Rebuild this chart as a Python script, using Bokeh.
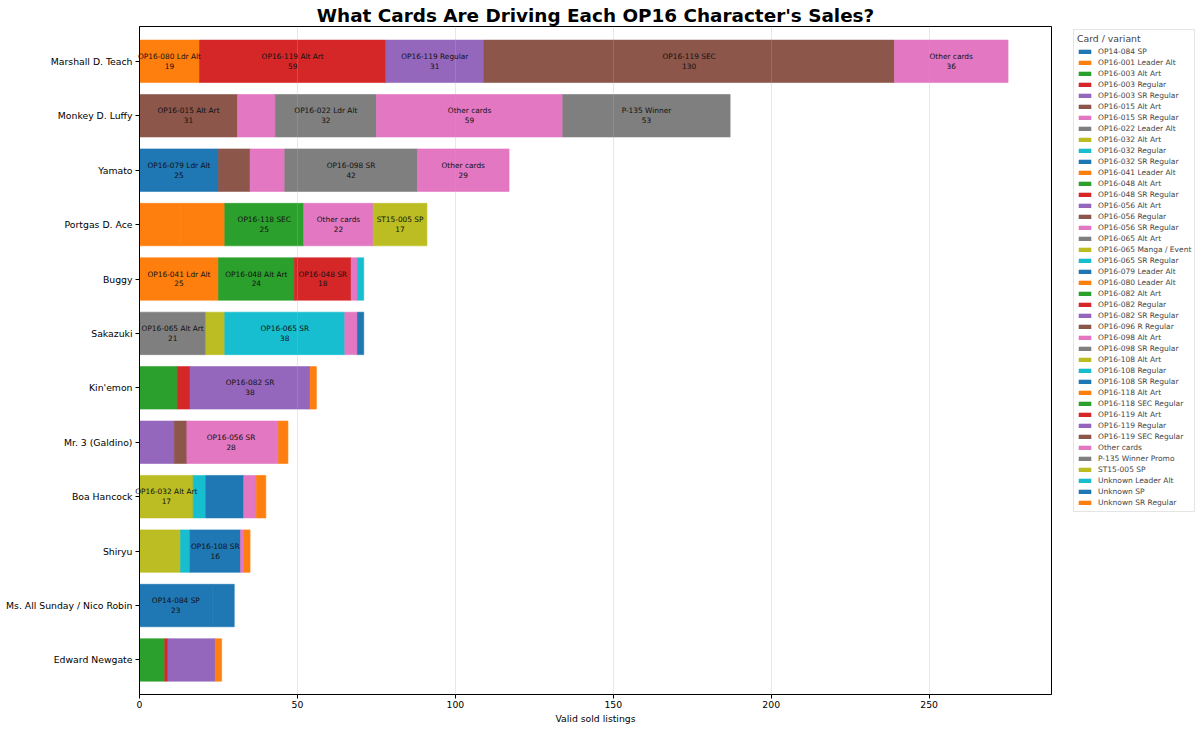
from bokeh.plotting import figure
from bokeh.models import ColumnDataSource, Legend, LegendItem, Range1d, FixedTicker
from bokeh.embed import file_html
from bokeh.resources import INLINE
from bokeh.core.properties import value

# ---------------- data ----------------
title_text = "What Cards Are Driving Each OP16 Character's Sales?"
x_label = "Valid sold listings"
legend_title = "Card / variant"

characters = ["Marshall D. Teach", "Monkey D. Luffy", "Yamato", "Portgas D. Ace", "Buggy",
              "Sakazuki", "Kin'emon", "Mr. 3 (Galdino)", "Boa Hancock", "Shiryu",
              "Ms. All Sunday / Nico Robin", "Edward Newgate"]

cards = ["OP14-084 SP", "OP16-001 Leader Alt", "OP16-003 Alt Art", "OP16-003 Regular",
         "OP16-003 SR Regular", "OP16-015 Alt Art", "OP16-015 SR Regular", "OP16-022 Leader Alt",
         "OP16-032 Alt Art", "OP16-032 Regular", "OP16-032 SR Regular", "OP16-041 Leader Alt",
         "OP16-048 Alt Art", "OP16-048 SR Regular", "OP16-056 Alt Art", "OP16-056 Regular",
         "OP16-056 SR Regular", "OP16-065 Alt Art", "OP16-065 Manga / Event", "OP16-065 SR Regular",
         "OP16-079 Leader Alt", "OP16-080 Leader Alt", "OP16-082 Alt Art", "OP16-082 Regular",
         "OP16-082 SR Regular", "OP16-096 R Regular", "OP16-098 Alt Art", "OP16-098 SR Regular",
         "OP16-108 Alt Art", "OP16-108 Regular", "OP16-108 SR Regular", "OP16-118 Alt Art",
         "OP16-118 SEC Regular", "OP16-119 Alt Art", "OP16-119 Regular", "OP16-119 SEC Regular",
         "Other cards", "P-135 Winner Promo", "ST15-005 SP", "Unknown Leader Alt", "Unknown SP",
         "Unknown SR Regular"]

teach = [("OP16-080 Leader Alt", 19), ("OP16-119 Alt Art", 59), ("OP16-119 Regular", 31),
         ("OP16-119 SEC Regular", 130), ("Other cards", 36)]
luffy = [("OP16-015 Alt Art", 31), ("OP16-015 SR Regular", 12), ("OP16-022 Leader Alt", 32),
         ("Other cards", 59), ("P-135 Winner Promo", 53)]
yamato = [("OP16-079 Leader Alt", 25), ("OP16-096 R Regular", 10), ("OP16-098 Alt Art", 11),
          ("OP16-098 SR Regular", 42), ("Other cards", 29)]
ace = [("OP16-001 Leader Alt", 13), ("OP16-118 Alt Art", 14), ("OP16-118 SEC Regular", 25),
       ("Other cards", 22), ("ST15-005 SP", 17)]
buggy = [("OP16-041 Leader Alt", 25), ("OP16-048 Alt Art", 24), ("OP16-048 SR Regular", 18),
         ("Other cards", 2), ("Unknown Leader Alt", 2)]
sakazuki = [("OP16-065 Alt Art", 21), ("OP16-065 Manga / Event", 6), ("OP16-065 SR Regular", 38),
            ("Other cards", 4), ("Unknown SP", 2)]
kinemon = [("OP16-082 Alt Art", 12), ("OP16-082 Regular", 4), ("OP16-082 SR Regular", 38),
           ("Unknown SR Regular", 2)]
mr3 = [("OP16-056 Alt Art", 11), ("OP16-056 Regular", 4), ("OP16-056 SR Regular", 28),
       ("Other cards", 1), ("Unknown SR Regular", 3)]
boa = [("OP16-032 Alt Art", 17), ("OP16-032 Regular", 4), ("OP16-032 SR Regular", 12),
       ("Other cards", 4), ("Unknown SR Regular", 3)]
shiryu = [("OP16-108 Alt Art", 13), ("OP16-108 Regular", 3), ("OP16-108 SR Regular", 16),
          ("Other cards", 1), ("Unknown SR Regular", 2)]
robin = [("OP14-084 SP", 23), ("Unknown SP", 7)]
newgate = [("OP16-003 Alt Art", 8), ("OP16-003 Regular", 1), ("OP16-003 SR Regular", 15),
           ("Unknown SR Regular", 2)]

rows = [teach, luffy, yamato, ace, buggy, sakazuki, kinemon, mr3, boa, shiryu, robin, newgate]

x_ticks = [0, 50, 100, 150, 200, 250]
label_min = 16

palette = ["#1f77b4", "#ff7f0e", "#2ca02c", "#d62728", "#9467bd",
           "#8c564b", "#e377c2", "#7f7f7f", "#bcbd22", "#17becf"]


def short_name(name):
    return (name.replace("Leader Alt", "Ldr Alt").replace("SR Regular", "SR")
            .replace("SEC Regular", "SEC").replace("Winner Promo", "Winner"))


# ---------------- build ----------------
n = len(characters)
ypos = [n - 1 - i for i in range(n)]
xmax = max(sum(v for _, v in r) for r in rows) * 1.05

seg = {c: dict(y=[], left=[], right=[]) for c in cards}
lab = dict(x=[], y=[], text=[])
for r, yy in zip(rows, ypos):
    acc = 0
    for card, v in r:
        seg[card]["y"].append(yy)
        seg[card]["left"].append(acc)
        seg[card]["right"].append(acc + v)
        if v >= label_min:
            lab["x"].append(acc + v / 2)
            lab["y"].append(yy)
            lab["text"].append(short_name(card) + "\n" + str(v))
        acc += v

FONT = "DejaVu Sans"

p = figure(frame_width=912, frame_height=668, output_backend="svg", toolbar_location=None,
           x_range=Range1d(0, xmax), y_range=Range1d(-0.635, 11.64),
           min_border_left=139, min_border_top=26, min_border_bottom=34, min_border_right=149,
           title=title_text)

p.title.align = "center"
p.title.text_font = FONT
p.title.text_font_size = "18.4px"
p.title.text_font_style = "bold"
p.title.text_color = "black"
p.title.standoff = 1
p.title.offset = 0

items = []
for i, c in enumerate(cards):
    src = ColumnDataSource(seg[c])
    col = palette[i % 10]
    rr = p.hbar(y="y", left="left", right="right", height=0.78, source=src,
                fill_color=col, line_color=col, line_width=0.6)
    items.append(LegendItem(label=c, renderers=[rr]))

p.text(x="x", y="y", text="text", source=ColumnDataSource(lab), text_align="center",
       text_baseline="middle", text_font=value(FONT), text_font_size=value("7.4px"),
       text_color="#111111", text_line_height=1.1, level="overlay")

p.xaxis.ticker = FixedTicker(ticks=x_ticks)
p.yaxis.ticker = FixedTicker(ticks=ypos)
p.yaxis.major_label_overrides = {yy: c for yy, c in zip(ypos, characters)}
p.xaxis.axis_label = x_label
for ax in (p.xaxis, p.yaxis):
    ax.major_label_text_font = FONT
    ax.major_label_text_font_size = "9.3px"
    ax.major_label_text_color = "black"
    ax.axis_line_color = "black"
    ax.major_tick_line_color = "black"
    ax.major_tick_out = 4
    ax.major_tick_in = 0
    ax.minor_tick_line_color = None
    ax.axis_label_text_font = FONT
    ax.axis_label_text_font_size = "9.3px"
    ax.axis_label_text_font_style = "normal"
    ax.axis_label_text_color = "black"
p.xaxis.major_label_standoff = 2
p.yaxis.major_label_standoff = 3
p.xaxis.axis_label_standoff = 2

p.ygrid.visible = False
p.xgrid.ticker = FixedTicker(ticks=x_ticks)
p.xgrid.grid_line_color = "#b0b0b0"
p.xgrid.grid_line_alpha = 0.3
p.xgrid.level = "annotation"
p.outline_line_color = "black"
p.outline_line_alpha = 1

legend = Legend(items=items, location=(22, 182))
legend.title = legend_title
legend.title_text_font = FONT
legend.title_text_font_size = "9.3px"
legend.title_text_font_style = "normal"
legend.title_standoff = 2
legend.label_text_font = FONT
legend.label_text_font_size = "7.5px"
legend.glyph_width = 15
legend.glyph_height = 5
legend.label_height = 11
legend.spacing = 0
legend.padding = 3
legend.label_standoff = 6
legend.margin = 0
legend.border_line_color = "#cccccc"
legend.border_line_width = 1
p.add_layout(legend, "right")

open("out.html", "w").write(file_html(p, INLINE))
